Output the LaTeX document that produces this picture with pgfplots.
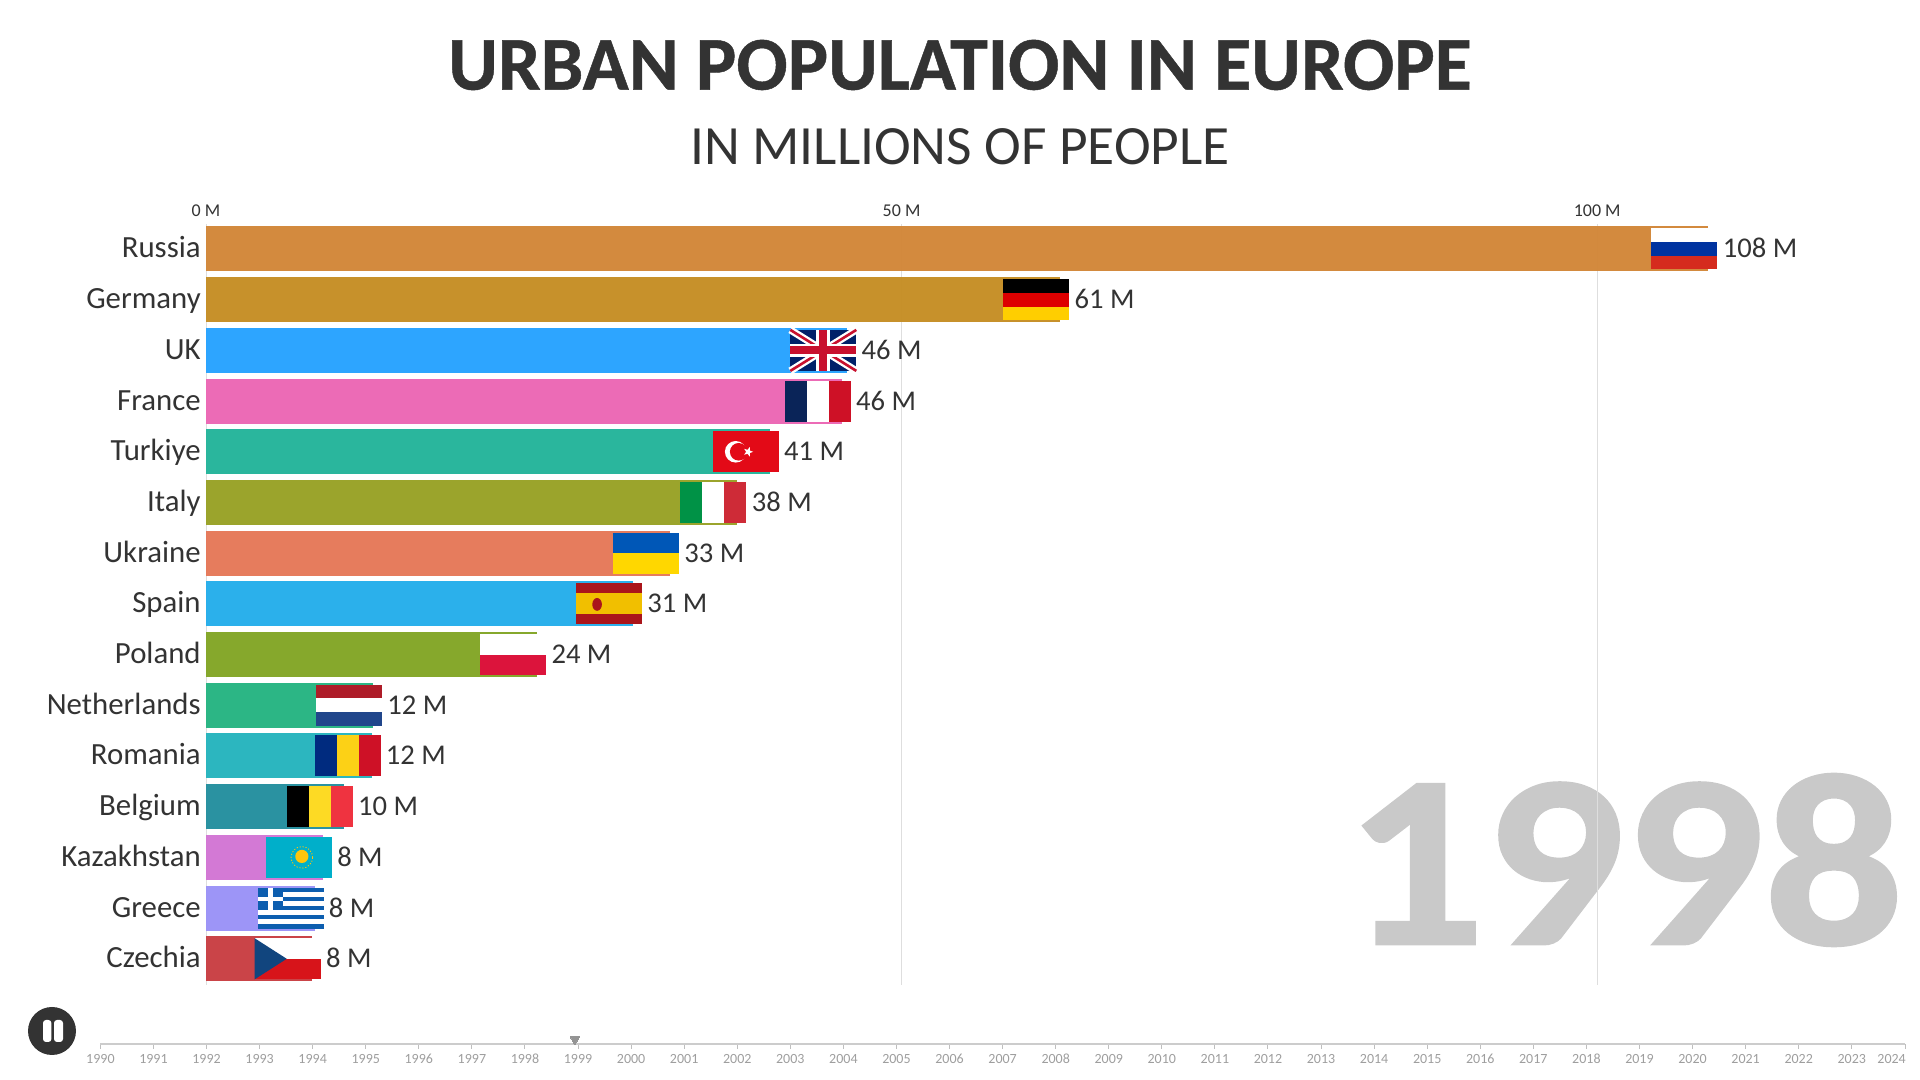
\documentclass[border=0pt]{standalone}
\usepackage{pgfplots}
\pgfplotsset{compat=1.18}
\usepackage{fontspec}
\setmainfont{Carlito}
\usetikzlibrary{shapes.geometric}
\definecolor{txt}{HTML}{333333}
\definecolor{cRU}{HTML}{D2883A}\definecolor{cDE}{HTML}{C68F27}\definecolor{cUK}{HTML}{29A3FF}
\definecolor{cFR}{HTML}{EC68B5}\definecolor{cTR}{HTML}{26B59B}\definecolor{cIT}{HTML}{99A228}
\definecolor{cUA}{HTML}{E6795A}\definecolor{cES}{HTML}{27AEEB}\definecolor{cPL}{HTML}{84A628}
\definecolor{cNL}{HTML}{28B583}\definecolor{cRO}{HTML}{28B5BE}\definecolor{cBE}{HTML}{26909F}
\definecolor{cKZ}{HTML}{D276D4}\definecolor{cGR}{HTML}{9B93F7}\definecolor{cCZ}{HTML}{C94044}
\definecolor{fRUb}{HTML}{0033A0}\definecolor{fRUr}{HTML}{D52B1E}
\definecolor{fDEr}{HTML}{DD0000}\definecolor{fDEy}{HTML}{FFCE00}
\definecolor{fUKb}{HTML}{012169}\definecolor{fUKr}{HTML}{C8102E}
\definecolor{fFRb}{HTML}{0A2458}\definecolor{fFRr}{HTML}{CE1126}
\definecolor{fTRr}{HTML}{E30A17}
\definecolor{fITg}{HTML}{009246}\definecolor{fITr}{HTML}{CE2B37}
\definecolor{fUAb}{HTML}{0057B7}\definecolor{fUAy}{HTML}{FFD700}
\definecolor{fESr}{HTML}{AA151B}\definecolor{fESy}{HTML}{F1BF00}
\definecolor{fPLr}{HTML}{DC143C}
\definecolor{fNLr}{HTML}{AE1C28}\definecolor{fNLb}{HTML}{21468B}
\definecolor{fROb}{HTML}{002B7F}\definecolor{fROy}{HTML}{FCD116}\definecolor{fROr}{HTML}{CE1126}
\definecolor{fBEy}{HTML}{FDDA24}\definecolor{fBEr}{HTML}{EF3340}
\definecolor{fKZb}{HTML}{00AFCA}\definecolor{fKZy}{HTML}{FEC50C}
\definecolor{fGRb}{HTML}{0D5EAF}
\definecolor{fCZb}{HTML}{11457E}\definecolor{fCZr}{HTML}{D7141A}
\newfontfamily\titlefont[FakeBold=0.6]{Carlito Bold}
\newfontfamily\yearfont[FakeStretch=1.12,FakeBold=1.2]{Carlito Bold}
\newcommand\rr[5]{\fill[#5] (xyz cs:x=#1,y=#2) rectangle (xyz cs:x=#3,y=#4);}
\newcommand\flagat[3]{\pgfplotsextra{\begin{scope}[shift={(axis cs:#1,#2)},xshift=-28.5pt,yshift=10.25pt,x=0.5pt,y=-0.5pt]#3\end{scope}}}
\newcommand\hflag[3]{\rr{0}{0}{66}{13.67}{#1}\rr{0}{13.67}{66}{27.33}{#2}\rr{0}{27.33}{66}{41}{#3}}
\newcommand\vflag[3]{\rr{0}{0}{22}{41}{#1}\rr{22}{0}{44}{41}{#2}\rr{44}{0}{66}{41}{#3}}
\begin{document}
\begin{tikzpicture}[x=1pt,y=1pt]
\useasboundingbox (0,0) rectangle (960,540);
\node[text=txt,font=\fontsize{38}{38}\selectfont\titlefont,anchor=center] at (480,507.5) {URBAN POPULATION IN EUROPE};
\node[text=txt,font=\fontsize{27.7}{27.7}\selectfont,anchor=center] at (480,466.5) {IN MILLIONS OF PEOPLE};
\node[text=black!21,font=\fontsize{123}{123}\selectfont\yearfont,anchor=east,inner xsep=0pt] at (952,110) {1998};
\begin{axis}[
  at={(103pt,47.5pt)},anchor=south west,scale only axis,width=850pt,height=380.5pt,
  xmin=0,xmax=122.2,ymin=-0.493,ymax=14.517,y dir=reverse,clip=false,
  xbar,bar width=22.5pt,bar shift=0pt,
  axis line style={draw=none},tick style={draw=none},
  xmajorgrids,grid style={draw=black!13,line width=0.5pt},
  xtick={0,50,100},xticklabels={0 M,50 M,100 M},xticklabel pos=upper,
  xticklabel style={text=txt,font=\fontsize{9}{9}\selectfont,inner ysep=0pt,yshift=3.7pt},
  ytick={0,...,14},
  yticklabels={Russia,Germany,UK,France,Turkiye,Italy,Ukraine,Spain,Poland,Netherlands,Romania,Belgium,Kazakhstan,Greece,Czechia},
  yticklabel style={text=txt,font=\fontsize{15.4}{15.4}\selectfont,inner xsep=0pt,xshift=1.8pt,text height=12pt,text depth=3pt},
  point meta=x,
  nodes near coords={\pgfmathprintnumber[fixed,precision=0,assume math mode=true]{\pgfplotspointmeta}~M},
  nodes near coords align={horizontal},
  every node near coord/.append style={text=txt,text opacity=1,font=\fontsize{14.3}{14.3}\selectfont,inner xsep=0pt,anchor=west,xshift=7pt,text height=12pt,text depth=3pt},
  every axis plot/.append style={draw=none,fill opacity=0.98},
]
\addplot[fill=cRU] coordinates {(108.0,0)};
\addplot[fill=cDE] coordinates {(61.4,1)};
\addplot[fill=cUK] coordinates {(46.1,2)};
\addplot[fill=cFR] coordinates {(45.7,3)};
\addplot[fill=cTR] coordinates {(40.52,4)};
\addplot[fill=cIT] coordinates {(38.2,5)};
\addplot[fill=cUA] coordinates {(33.35,6)};
\addplot[fill=cES] coordinates {(30.7,7)};
\addplot[fill=cPL] coordinates {(23.8,8)};
\addplot[fill=cNL] coordinates {(12.0,9)};
\addplot[fill=cRO] coordinates {(11.9,10)};
\addplot[fill=cBE] coordinates {(9.9,11)};
\addplot[fill=cKZ] coordinates {(8.4,12)};
\addplot[fill=cGR] coordinates {(7.8,13)};
\addplot[fill=cCZ] coordinates {(7.6,14)};
\flagat{108.0}{0}{\hflag{white}{fRUb}{fRUr}}
\flagat{61.4}{1}{\hflag{black}{fDEr}{fDEy}}
\flagat{46.1}{2}{\rr{0}{0}{66}{41}{fUKb}
  \draw[white,line width=3.6pt] (xyz cs:x=0,y=0) -- (xyz cs:x=66,y=41) (xyz cs:x=0,y=41) -- (xyz cs:x=66,y=0);
  \draw[fUKr,line width=1.3pt] (xyz cs:x=0,y=0) -- (xyz cs:x=66,y=41) (xyz cs:x=0,y=41) -- (xyz cs:x=66,y=0);
  \rr{26}{0}{40}{41}{white}\rr{0}{14}{66}{27}{white}
  \rr{29}{0}{37}{41}{fUKr}\rr{0}{16.5}{66}{24.5}{fUKr}}
\flagat{45.7}{3}{\vflag{fFRb}{white}{fFRr}}
\flagat{40.52}{4}{\rr{0}{0}{66}{41}{fTRr}
  \fill[white] (xyz cs:x=23,y=20.5) circle[radius=5.4pt];
  \fill[fTRr] (xyz cs:x=26,y=20.5) circle[radius=4.4pt];
  \node[star,star points=5,star point ratio=2.4,fill=white,inner sep=0pt,minimum size=5pt,rotate=-90] at (xyz cs:x=35.5,y=20.5) {};}
\flagat{38.2}{5}{\vflag{fITg}{white}{fITr}}
\flagat{33.35}{6}{\rr{0}{0}{66}{20.5}{fUAb}\rr{0}{20.5}{66}{41}{fUAy}}
\flagat{30.7}{7}{\rr{0}{0}{66}{41}{fESr}\rr{0}{10}{66}{31}{fESy}\fill[fESr] (xyz cs:x=21,y=21) ellipse[x radius=2.4pt,y radius=3.2pt];}
\flagat{23.8}{8}{\rr{0}{0}{66}{20.5}{white}\rr{0}{20.5}{66}{41}{fPLr}}
\flagat{12.0}{9}{\hflag{fNLr}{white}{fNLb}}
\flagat{11.9}{10}{\vflag{fROb}{fROy}{fROr}}
\flagat{9.9}{11}{\vflag{black}{fBEy}{fBEr}}
\flagat{8.4}{12}{\rr{0}{0}{66}{41}{fKZb}
  \fill[fKZy] (xyz cs:x=36,y=19.5) circle[radius=3.3pt];
  \draw[fKZy,line width=0.4pt,dash pattern=on 0.6pt off 0.9pt] (xyz cs:x=36,y=20.5) circle[radius=5.4pt];}
\flagat{7.8}{13}{\rr{0}{0}{66}{41}{white}
  \rr{0}{0}{66}{4.55}{fGRb}\rr{0}{9.1}{66}{13.65}{fGRb}\rr{0}{18.2}{66}{22.75}{fGRb}\rr{0}{27.3}{66}{31.85}{fGRb}\rr{0}{36.45}{66}{41}{fGRb}
  \rr{0}{0}{25}{22.75}{fGRb}\rr{10}{0}{15}{22.75}{white}\rr{0}{9.1}{25}{13.65}{white}}
\flagat{7.6}{14}{\rr{0}{0}{66}{20.5}{white}\rr{0}{20.5}{66}{41}{fCZr}
  \fill[fCZb] (xyz cs:x=0,y=0) -- (xyz cs:x=32,y=20.5) -- (xyz cs:x=0,y=41) -- cycle;}
\end{axis}
\begin{axis}[
  at={(50.2pt,18pt)},anchor=south west,scale only axis,width=902.3pt,height=10pt,
  xmin=1990,xmax=2024,ymin=0,ymax=1,clip=false,
  axis x line=bottom,axis y line=none,
  axis line style={-,draw=black!20,line width=1pt},
  xtick={1990,...,2023},tick align=outside,major tick length=2.5pt,
  tick style={draw=black!25,line width=0.5pt},
  extra x ticks={2024},extra x tick style={xticklabel style={xshift=-6.7pt}},
  xticklabel style={text=black!38,font=\fontsize{7}{7}\selectfont,/pgf/number format/1000 sep={},/pgf/number format/assume math mode=true,inner ysep=0pt,yshift=-2.5pt},
]
\addplot[only marks,mark=triangle*,mark size=2.6pt,mark options={rotate=180,fill=black!42,draw=black!42,line width=0pt}] coordinates {(1998.94,0.22)};
\end{axis}
\fill[txt] (26,24.5) circle[radius=12];
\fill[white,rounded corners=1.5pt] (21.5,19) rectangle (25.7,30);
\fill[white,rounded corners=1.5pt] (27,19) rectangle (31.5,30);
\end{tikzpicture}
\end{document}
